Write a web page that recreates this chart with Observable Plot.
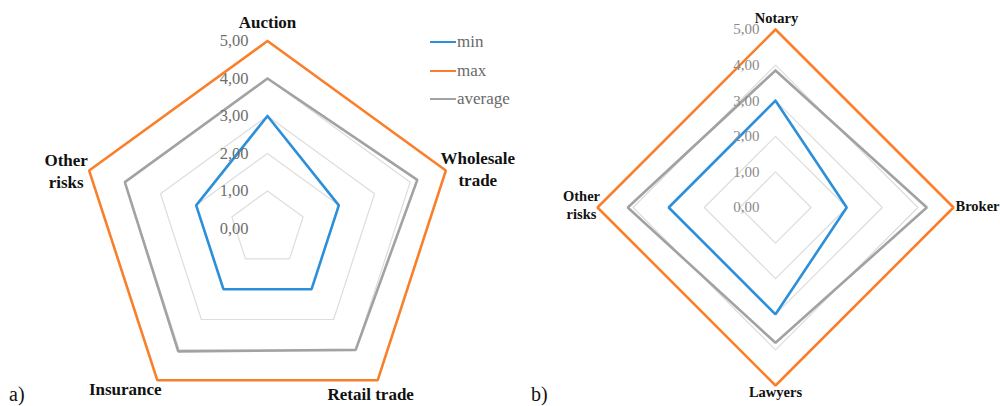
<!DOCTYPE html>
<html>
<head>
<meta charset="utf-8">
<script src="https://cdn.jsdelivr.net/npm/d3@7"></script>
<script src="https://cdn.jsdelivr.net/npm/@observablehq/plot@0.6"></script>
<style>
  html, body { margin: 0; padding: 0; background: #fff; }
  #wrap { position: relative; width: 1000px; height: 406px; overflow: hidden; font-family: 'Liberation Serif', 'DejaVu Serif', serif; }
  .panel { position: absolute; top: 0; }
  .tag { position: absolute; font-size: 20px; color: #111; line-height: 1; }
  .leg { position: absolute; font-size: 17px; color: #6a6a6a; line-height: 1; white-space: nowrap; }
  .leg span.sw { display: inline-block; width: 26px; height: 2.5px; vertical-align: middle; margin-right: 1px; position: relative; top: -1px; }
  svg text { font-family: 'Liberation Serif', 'DejaVu Serif', serif; }
</style>
</head>
<body>
<div id="wrap">
  <div id="pa" class="panel" style="left:0px"></div>
  <div id="pb" class="panel" style="left:520px"></div>
  <div id="legend"></div>
  <div class="tag" style="left:9px;top:384px">a)</div>
  <div class="tag" style="left:531px;top:384px">b)</div>
</div>
<script>
// ---------- data ----------
const categoriesA = ["Auction", "Wholesale trade", "Retail trade", "Insurance", "Other risks"];
const labelsA = ["Auction", "Wholesale\ntrade", "Retail trade", "Insurance", "Other\nrisks"];
const minA = [3, 2, 2, 2, 2];
const maxA = [5, 5, 5, 5, 5];
const avgA = [4, 4.2, 4, 4.05, 4];

const categoriesB = ["Notary", "Broker", "Lawyers", "Other risks"];
const labelsB = ["Notary", "Broker", "Lawyers", "Other\nrisks"];
const minB = [3, 2, 3, 3];
const maxB = [5, 5, 5, 5];
const avgB = [3.85, 4.25, 3.8, 4.15];

const seriesNames = ["min", "max", "average"];
const tickValues = [0, 1, 2, 3, 4, 5];
const tickLabels = ["0,00", "1,00", "2,00", "3,00", "4,00", "5,00"];

// ---------- styles ----------
const seriesColors = ["#2b8fd9", "#f97f2a", "#a2a2a2"];
const gridColor = "#dddddd";
const FONT = "'Liberation Serif', 'DejaVu Serif', serif";

function ang(i, n) { return 2 * Math.PI * i / n; }

function polygon(values, name) {
  const n = values.length;
  const pts = values.map((v, i) => ({series: name, x: v * Math.sin(ang(i, n)), y: v * Math.cos(ang(i, n))}));
  pts.push({...pts[0]});
  return pts;
}

function radar(cfg) {
  const {categories, labels, series, width, height, cx, cy, unit, layout, tickDx, tickSize, tickColor, catSize, catLineHeight} = cfg;
  const n = categories.length;
  const rmax = d3.max(tickValues);
  const gridRings = tickValues.filter(t => t > 0).map(t => polygon(categories.map(() => t), "g" + t));
  const seriesData = series.flatMap((vals, k) => polygon(vals, seriesNames[k]));
  const vertices = categories.map((c, i) => ({c, label: labels[i], x: rmax * Math.sin(ang(i, n)), y: rmax * Math.cos(ang(i, n))}));

  const marks = [];
  for (const ring of gridRings) {
    marks.push(Plot.line(ring, {x: "x", y: "y", stroke: gridColor, strokeWidth: 1.2}));
  }
  marks.push(Plot.line(seriesData, {x: "x", y: "y", z: "series", stroke: "series", strokeWidth: 2.6, strokeLinejoin: "miter"}));
  marks.push(Plot.text(tickValues, {
    x: () => 0, y: d => d, text: (d, i) => tickLabels[i],
    textAnchor: "end", dx: tickDx, fill: tickColor, fontSize: tickSize, fontFamily: FONT
  }));
  vertices.forEach((v, i) => {
    const L = layout[i];
    marks.push(Plot.text([v], {
      x: "x", y: "y", text: "label", textAnchor: L.anchor, lineAnchor: "middle",
      dx: L.dx, dy: L.dy, fontWeight: "bold", fontSize: catSize, fontFamily: FONT,
      fill: "#111", lineHeight: catLineHeight
    }));
  });

  return Plot.plot({
    width, height,
    marginTop: 0, marginRight: 0, marginBottom: 0, marginLeft: 0,
    style: {fontFamily: FONT, background: "transparent", overflow: "visible"},
    x: {domain: [-cx / unit, (width - cx) / unit], range: [0, width], axis: null},
    y: {domain: [-(height - cy) / unit, cy / unit], range: [height, 0], axis: null},
    color: {domain: seriesNames, range: seriesColors},
    marks
  });
}

const chartA = radar({
  categories: categoriesA, labels: labelsA, series: [minA, maxA, avgA],
  width: 520, height: 406, cx: 267, cy: 228, unit: 37.5,
  tickDx: -19, tickSize: 16.5, tickColor: "#6e6e6e", catSize: 17, catLineHeight: 1.3,
  layout: [
    {dx: 0, dy: -20, anchor: "middle"},
    {dx: 32, dy: -3, anchor: "middle"},
    {dx: -7, dy: 13, anchor: "middle"},
    {dx: -32, dy: 8, anchor: "middle"},
    {dx: -23, dy: -1, anchor: "middle"}
  ]
});
document.getElementById("pa").appendChild(chartA);

const chartB = radar({
  categories: categoriesB, labels: labelsB, series: [minB, maxB, avgB],
  width: 480, height: 406, cx: 255, cy: 207, unit: 35.6,
  tickDx: -16, tickSize: 15, tickColor: "#8a8a8a", catSize: 14.5, catLineHeight: 1.2,
  layout: [
    {dx: 1, dy: -12, anchor: "middle"},
    {dx: 2, dy: -2, anchor: "start"},
    {dx: 0, dy: 6, anchor: "middle"},
    {dx: -16, dy: -3, anchor: "middle"}
  ]
});
document.getElementById("pb").appendChild(chartB);

// ---------- legend ----------
const legend = document.getElementById("legend");
const legendTops = [42, 71, 99];
seriesNames.forEach((name, i) => {
  const item = document.createElement("div");
  item.className = "leg";
  item.style.left = "430px";
  item.style.top = (legendTops[i] - 9) + "px";
  const sw = document.createElement("span");
  sw.className = "sw";
  sw.style.background = seriesColors[i];
  item.appendChild(sw);
  item.appendChild(document.createTextNode(name));
  legend.appendChild(item);
});
</script>
</body>
</html>
